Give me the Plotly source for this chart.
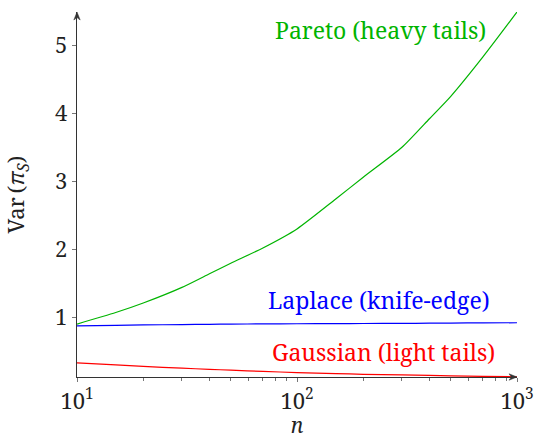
import plotly.graph_objects as go

n_values = [10, 15, 20, 30, 40, 50, 70, 100, 150, 200, 300, 400, 500, 700, 1000]
pareto = [0.90, 1.07, 1.21, 1.44, 1.64, 1.795, 2.02, 2.30, 2.74, 3.06, 3.50, 3.92, 4.25, 4.83, 5.49]
laplace = [0.875, 0.882, 0.888, 0.893, 0.897, 0.90, 0.903, 0.905, 0.907, 0.909, 0.911, 0.913, 0.915, 0.918, 0.92]
gaussian = [0.33, 0.30, 0.278, 0.252, 0.235, 0.222, 0.205, 0.187, 0.172, 0.162, 0.152, 0.145, 0.139, 0.132, 0.125]

series_names = ["Pareto (heavy tails)", "Laplace (knife-edge)", "Gaussian (light tails)"]
series_colors = ["#00b400", "#0000ff", "#ff0000"]

x_major = [10, 100, 1000]
x_major_text = ["10<sup>1</sup>", "10<sup>2</sup>", "10<sup>3</sup>"]
x_minor = [20, 30, 40, 50, 60, 70, 80, 90, 200, 300, 400, 500, 600, 700, 800, 900]
y_ticks = [1, 2, 3, 4, 5]

FONT = "Noto Serif"
FS = 22
AXC = "#333333"
TKC = "#777777"

fig = go.Figure()
for name, vals, col in zip(series_names, [pareto, laplace, gaussian], series_colors):
    fig.add_trace(go.Scatter(x=n_values, y=vals, mode="lines", name=name,
                             line=dict(color=col, width=1.2, shape="spline", smoothing=0.6),
                             showlegend=False, hoverinfo="skip"))

# Labels next to curves
label_pos = [(2.868, 5.22), (2.886, 1.25), (2.909, 0.49)]
for name, col, (lx, ly) in zip(series_names, series_colors, label_pos):
    fig.add_annotation(x=lx, y=ly, xref="x", yref="y", text=name, showarrow=False,
                       xanchor="right", yanchor="middle",
                       font=dict(family=FONT, size=23, color=col))

# axis arrow heads (paper coords; plot area = paper domain)
W, H = 440.0, 365.0
al, aw = 8.0, 3.2
fig.add_shape(type="path", xref="paper", yref="paper",
              path=f"M 1 0 L {1-al/W} {aw/H} L {1-0.7*al/W} 0 L {1-al/W} {-aw/H} Z",
              fillcolor=AXC, line=dict(color=AXC, width=0.5), layer="above")
fig.add_shape(type="path", xref="paper", yref="paper",
              path=f"M 0 1 L {aw/W} {1-al/H} L 0 {1-0.7*al/H} L {-aw/W} {1-al/H} Z",
              fillcolor=AXC, line=dict(color=AXC, width=0.5), layer="above")

xr = [1, 3]
yr = [0.122, 5.49]

fig.update_layout(
    width=535, height=439,
    margin=dict(l=77, r=18, t=12, b=62, autoexpand=False),
    paper_bgcolor="white", plot_bgcolor="white",
    font=dict(family=FONT, size=FS, color="#222"),
    xaxis=dict(type="log", range=xr, showgrid=False, zeroline=False, automargin=False,
               showline=True, linecolor=AXC, linewidth=1.2,
               tickmode="array", tickvals=x_major, ticktext=x_major_text,
               ticks="outside", ticklen=4, tickwidth=1, tickcolor=TKC,
               minor=dict(tickmode="array", tickvals=x_minor, ticks="outside",
                          ticklen=3, tickwidth=1, tickcolor=TKC, showgrid=False),
               title=dict(text="<i>n</i>", font=dict(family=FONT, size=21), standoff=6),
               tickfont=dict(family=FONT, size=FS, color="#222")),
    xaxis2=dict(type="log", range=xr, overlaying="x", anchor="y", side="bottom",
                automargin=False,
                showgrid=False, zeroline=False, showline=False, showticklabels=False,
                tickmode="array", tickvals=x_major,
                ticks="inside", ticklen=4, tickwidth=1, tickcolor=TKC,
                minor=dict(tickmode="array", tickvals=x_minor, ticks="inside",
                           ticklen=3, tickwidth=1, tickcolor=TKC, showgrid=False)),
    yaxis=dict(range=yr, showgrid=False, zeroline=False, automargin=False,
               showline=True, linecolor=AXC, linewidth=1.2,
               tickmode="array", tickvals=y_ticks,
               ticks="outside", ticklen=4, tickwidth=1, tickcolor=TKC,
               title=dict(text="Var\u2009(<i>π</i><sub><i>S</i></sub>)",
                          font=dict(family=FONT, size=FS), standoff=24),
               tickfont=dict(family=FONT, size=FS, color="#222")),
    yaxis2=dict(range=yr, overlaying="y", anchor="x", side="left", automargin=False,
                showgrid=False, zeroline=False, showline=False, showticklabels=False,
                tickmode="array", tickvals=y_ticks,
                ticks="inside", ticklen=4, tickwidth=1, tickcolor=TKC),
)

fig.write_html("out.html", config={"displayModeBar": False, "staticPlot": True},
               post_script="document.body.style.margin='0';document.body.style.overflow='hidden';")
